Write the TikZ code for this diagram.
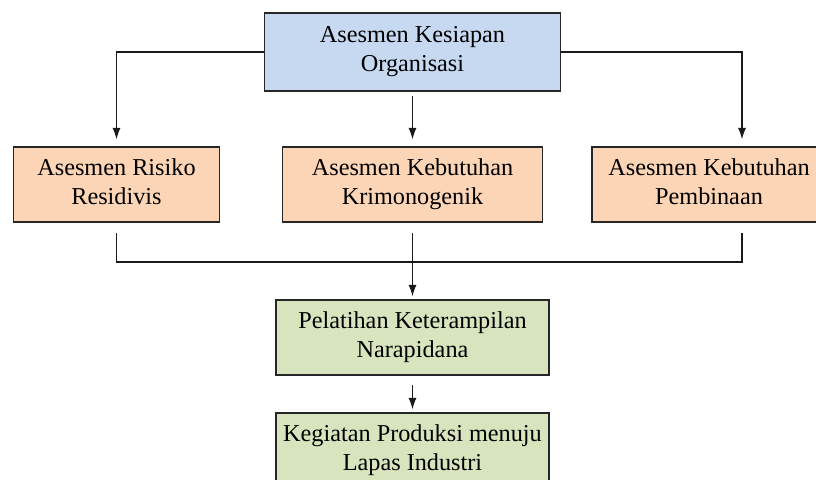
\documentclass[tikz,border=0pt]{standalone}
\usepackage{fontspec}
\setmainfont{Liberation Serif}
\usepackage{tikz}
\usetikzlibrary{arrows.meta}

\definecolor{birumuda}{HTML}{C6D9F1}
\definecolor{oranyemuda}{HTML}{FBD5B5}
\definecolor{hijaumuda}{HTML}{D7E4BD}

\tikzset{
    kotak/.style={draw=black!85, line width=0.9pt, align=center, inner sep=2pt,
        minimum height=1.5cm, font=\fontsize{13.8}{16.6}\selectfont,
        execute at end node=\vphantom{g}},
    kotakbiru/.style={kotak, fill=birumuda},
    kotakoranye/.style={kotak, fill=oranyemuda},
    kotakhijau/.style={kotak, fill=hijaumuda},
    garis/.style={line width=0.6pt, black!90},
    panah/.style={garis, -{Latex[length=6.5pt,width=4.6pt]}}
}

\begin{document}
\begin{tikzpicture}
            \useasboundingbox (0,0) rectangle (16.32,9.58);

            % tingkat atas
            \node[kotakbiru, minimum width=5.92cm, minimum height=1.56cm] (org) at (8.25,8.54) {Asesmen Kesiapan\\Organisasi};

            % tiga asesmen
            \node[kotakoranye, minimum width=4.12cm] (risiko) at (2.33,5.89) {Asesmen Risiko\\Residivis};
            \node[kotakoranye, minimum width=5.2cm] (krimo) at (8.25,5.89) {Asesmen Kebutuhan\\Krimonogenik};
            \node[kotakoranye, minimum width=4.68cm] (bina) at (14.18,5.89) {Asesmen Kebutuhan\\Pembinaan};

            % pelatihan dan produksi
            \node[kotakhijau, minimum width=5.46cm] (latih) at (8.25,2.83) {Pelatihan Keterampilan\\Narapidana};
            \node[kotakhijau, minimum width=5.46cm] (produksi) at (8.25,0.57) {Kegiatan Produksi menuju\\Lapas Industri};

            \coordinate (gabung) at (8.25,4.34);

            \draw[panah, shorten >=0.14cm] (org.west) -| (risiko.north);
            \draw[panah, shorten <=0.08cm, shorten >=0.14cm] (org.south) -- (krimo.north);
            \draw[panah, shorten >=0.14cm] (org.east) -| ([xshift=0.66cm]bina.north);

            \draw[garis, shorten <=0.2cm, shorten >=0.2cm] (risiko.south) |- (gabung) -| ([xshift=0.66cm]bina.south);
            \draw[panah, shorten <=0.2cm, shorten >=0.06cm] (krimo.south) -- (latih.north);
            \draw[panah, shorten <=0.18cm, shorten >=0.06cm] (latih.south) -- (produksi.north);
\end{tikzpicture}
\end{document}
